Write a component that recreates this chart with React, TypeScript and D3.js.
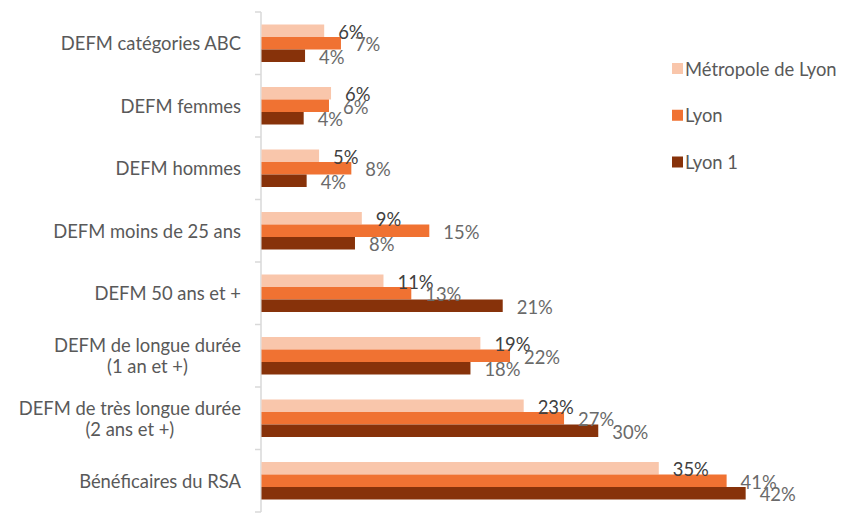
import React from "react";
import * as d3 from "d3";

const categories: string[][] = [
  ["DEFM catégories ABC"],
  ["DEFM femmes"],
  ["DEFM hommes"],
  ["DEFM moins de 25 ans"],
  ["DEFM 50 ans et +"],
  ["DEFM de longue durée", "(1 an et +)"],
  ["DEFM de très longue durée", "(2 ans et +)"],
  ["Bénéficaires du RSA"],
];

const seriesNames = ["Métropole de Lyon", "Lyon", "Lyon 1"];

const metropole = [5.5, 6.1, 5.05, 8.8, 10.7, 19.2, 23.0, 34.85];
const lyon = [6.97, 5.92, 7.88, 14.72, 13.14, 21.8, 26.54, 40.8];
const lyon1 = [3.82, 3.7, 3.96, 8.2, 21.16, 18.33, 29.54, 42.47];

const seriesValues = [metropole, lyon, lyon1];
const colors = ["#F9C6AB", "#F07232", "#87320A"];
const labelColors = ["#404040", "#6a6a6a", "#6a6a6a"];

const W = 851;
const H = 517;
const FONT = "Lato, 'Open Sans', sans-serif";
const CAT_SIZE = 18.4;
const LBL_SIZE = 18.4;

export default function App() {
  const keys = categories.map((c) => c.join(" "));
  const y0 = d3
    .scaleBand<string>()
    .domain(keys)
    .range([12, 512])
    .paddingInner(0.4)
    .paddingOuter(0.2);
  const y1 = d3
    .scaleBand<string>()
    .domain(seriesNames)
    .range([0, y0.bandwidth()]);
  const x = d3.scaleLinear().domain([0, 45]).range([261.5, 774.5]);
  const fmt = (v: number) => d3.format(".0f")(v) + "%";

  const step = y0.step();
  const tickYs = d3.range(keys.length + 1).map((i) => 12 + i * step);

  return (
    <div style={{ position: "fixed", left: 0, top: 0 }}>
      <svg width={W} height={H} style={{ display: "block", background: "#fff" }}>
        {/* axis */}
        <line x1={261} x2={261} y1={12} y2={512} stroke="#d9d9d9" strokeWidth={1.5} />
        {tickYs.map((ty, i) => (
          <line key={i} x1={255} x2={261} y1={ty} y2={ty} stroke="#d9d9d9" strokeWidth={1.5} />
        ))}
        {/* bars */}
        {keys.map((k, ci) => (
          <g key={k} transform={`translate(0,${y0(k)})`}>
            {seriesNames.map((s, si) => (
              <rect
                key={s}
                x={x(0)}
                y={y1(s)}
                width={x(seriesValues[si][ci]) - x(0)}
                height={y1.bandwidth()}
                fill={colors[si]}
              />
            ))}
          </g>
        ))}
        {/* labels */}
        {keys.map((k, ci) => (
          <g key={k + "l"} transform={`translate(0,${y0(k)})`}>
            {seriesNames.map((s, si) => (
              <text
                key={s}
                x={x(seriesValues[si][ci]) + 14}
                y={(y1(s) as number) + y1.bandwidth() / 2 + 1}
                dominantBaseline="central"
                fontFamily={FONT}
                fontSize={LBL_SIZE}
                fill={labelColors[si]}
              >
                {fmt(seriesValues[si][ci])}
              </text>
            ))}
          </g>
        ))}
        {/* category labels */}
        {categories.map((lines, ci) => {
          const cy = (y0(keys[ci]) as number) + y0.bandwidth() / 2;
          const lh = 21;
          const startY = cy - ((lines.length - 1) * lh) / 2;
          return (
            <g key={ci}>
              {lines.length === 1 ? (
                <text
                  x={241}
                  y={cy}
                  textAnchor="end"
                  dominantBaseline="central"
                  fontFamily={FONT}
                  fontSize={CAT_SIZE}
                  fill="#595959"
                >
                  {lines[0]}
                </text>
              ) : (
                <MultiLine lines={lines} right={241} startY={startY} lh={lh} />
              )}
            </g>
          );
        })}
        {/* legend */}
        {seriesNames.map((s, si) => {
          const ly = 68.5 + si * 46.75;
          return (
            <g key={s}>
              <rect x={672} y={ly - 5.5} width={11} height={11} fill={colors[si]} />
              <text
                x={685}
                y={ly}
                dominantBaseline="central"
                fontFamily={FONT}
                fontSize={CAT_SIZE}
                fill="#595959"
              >
                {s}
              </text>
            </g>
          );
        })}
      </svg>
    </div>
  );
}

function MultiLine({
  lines,
  right,
  startY,
  lh,
}: {
  lines: string[];
  right: number;
  startY: number;
  lh: number;
}) {
  const ref = React.useRef<SVGGElement>(null);
  const [center, setCenter] = React.useState<number | null>(null);
  React.useLayoutEffect(() => {
    if (!ref.current) return;
    const texts = Array.from(ref.current.querySelectorAll("text")) as SVGTextElement[];
    const maxW = d3.max(texts, (t) => t.getComputedTextLength()) || 0;
    setCenter(right - maxW / 2);
  }, [lines, right]);
  return (
    <g ref={ref}>
      {lines.map((l, i) => (
        <text
          key={i}
          x={center ?? right}
          y={startY + i * lh}
          textAnchor={center === null ? "end" : "middle"}
          dominantBaseline="central"
          fontFamily={FONT}
          fontSize={CAT_SIZE}
          fill="#595959"
        >
          {l}
        </text>
      ))}
    </g>
  );
}
